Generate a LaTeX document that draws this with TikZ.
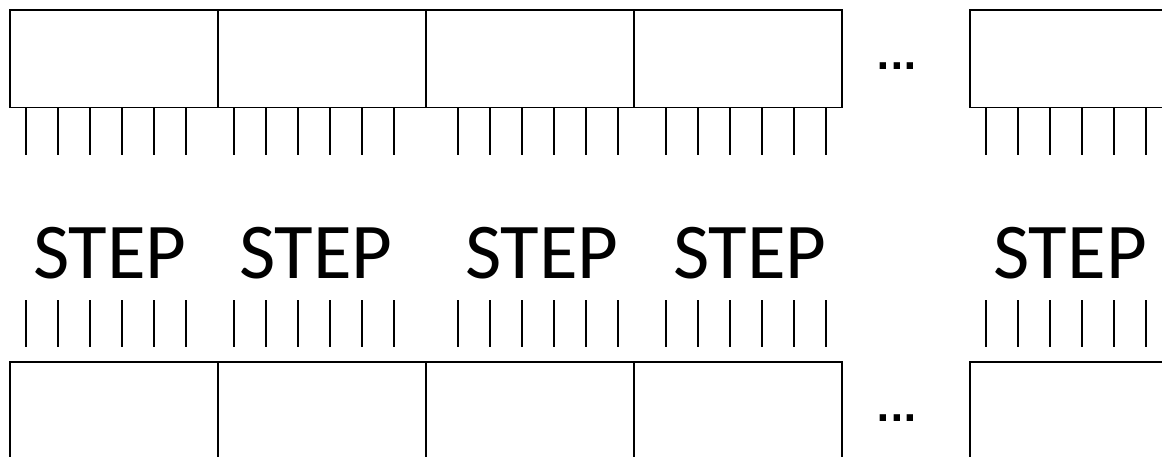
\documentclass[tikz,border=0pt]{standalone}
\usepackage{fontspec}
\setmainfont{Carlito}
\newfontfamily\dotfont{DejaVu Sans}
\begin{document}
\begin{tikzpicture}[x=1pt,y=-1pt,
  blk/.style={draw, line width=1.5pt, minimum width=208pt, minimum height=97.5pt,
              inner sep=0pt, outer sep=0pt, anchor=north west},
  tk/.style={line width=1.3pt},
  lbl/.style={font=\fontsize{79}{80}\selectfont, anchor=base, inner sep=0pt},
  dts/.style={font=\dotfont\bfseries\fontsize{36}{40}\selectfont, anchor=base, inner sep=0pt}]
\useasboundingbox (0,0) rectangle (1162,456);
\fill[white] (0,0) rectangle (1162,456);
\clip (0,0) rectangle (1162,456);
\foreach \n/\x in {1/10,2/218,3/426,4/634,5/970} {
  \node[blk] (t\n) at (\x,10) {};
  \node[blk] (b\n) at (\x,362) {};
}
\foreach \n/\o in {1/16,2/16,3/32,4/32,5/16} {
  \foreach \k in {0,...,5} {
    \draw[tk] ([xshift={(\o+32*\k)*1pt}]t\n.south west) -- ++(0,47);
    \draw[tk] ([xshift={(\o+32*\k)*1pt}]b\n.north west) ++(0,-62) -- ++(0,47);
  }
}
\foreach \n/\x in {1/110,2/316,3/542,4/750,5/1070} {
  \node[lbl] (s\n) at (\x,278) {STEP};
}
\node[dts] (d1) at (897,69) {...};
\node[dts] (d2) at (897,421) {...};
\end{tikzpicture}
\end{document}
